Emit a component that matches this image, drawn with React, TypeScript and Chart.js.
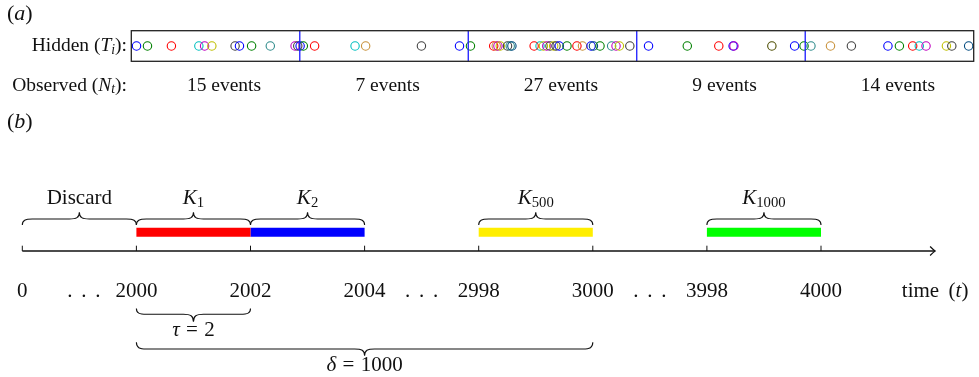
import React, { useEffect, useRef } from 'react';
import { Chart, registerables } from 'chart.js';
Chart.register(...registerables);

// ---------- Panel (a): hidden event times (interval units) ----------
const eventTimes = [
  0.031, 0.096, 0.238, 0.401, 0.435, 0.478, 0.616, 0.642, 0.714, 0.825,
  0.972, 0.988, 1.002, 1.021, 1.088, 1.328, 1.391, 1.722, 1.948, 2.013,
  2.151, 2.166, 2.176, 2.19, 2.233, 2.249, 2.259, 2.391, 2.426, 2.446,
  2.466, 2.485, 2.507, 2.521, 2.54, 2.586, 2.645, 2.678, 2.729, 2.743,
  2.782, 2.851, 2.877, 2.897, 2.959, 3.07, 3.3, 3.487, 3.572, 3.577, 3.802,
  3.937, 3.993, 4.034, 4.15, 4.274, 4.491, 4.559, 4.638, 4.677, 4.717,
  4.838, 4.87, 4.97,
];
const eventColorKeys = [
  'b', 'g', 'r', 'c', 'm', 'y', 'k', 'b', 'g', 't',
  'm', 'k', 'b', 'g', 'r', 'c', 'o', 'k', 'b', 'g',
  'r', 'o', 'm', 'y', 'k', 't', 'd', 'r', 'c', 'y',
  'm', 'k', 'y', 'k', 'b', 'g', 'r', 'o', 'b', 'd',
  'g', 't', 'm', 'y', 'k', 'b', 'g', 'r', 'b', 'm', 'l',
  'b', 'g', 't', 'o', 'k', 'b', 'g', 'r', 'c', 'm',
  'y', 'k', 'd',
];
const intervalBoundaries = [1, 2, 3, 4];
const intervalStarts = [0, 1, 2, 3, 4];
const observedCounts = [15, 7, 27, 9, 14];

// ---------- Panel (b): timeline ----------
const tickPositions = [0, 1, 2, 3, 4, 5, 6, 7];
const tickLabels = ['0', '2000', '2002', '2004', '2998', '3000', '3998', '4000'];
const ellipsisPositions = [0.54, 3.5, 5.5];
const windowStarts = [1, 2, 4, 6];
const windowEnds = [2, 3, 5, 7];
const windowSubscripts = ['1', '2', '500', '1000'];
const discardRange = [0, 1];
const tauRange = [1, 2];
const tauValue = '2';
const deltaRange = [1, 5];
const deltaValue = '1000';
const axisEnd = 8;
const timeLabelPos = 8;

const palette: Record<string, string> = {
  b: '#0000ff', g: '#008000', r: '#ff0000', c: '#00bfbf', m: '#bf00bf',
  y: '#bfbf00', k: '#404040', t: '#2e8b8b', o: '#c8913a', d: '#004a7f', l: '#4d4d00',
};
const windowColors = ['#ff0000', '#0000ff', '#ffee00', '#00ff00'];

const FONT = '"Liberation Serif", "Times New Roman", serif';
const INK = '#111';

type Part = { t?: string; it?: boolean; sub?: boolean; gap?: number };

function drawRich(ctx: CanvasRenderingContext2D, parts: Part[], x: number, y: number, size: number, align: 'left' | 'center' | 'right') {
  const fontFor = (p: Part) => `${p.it ? 'italic ' : ''}${p.sub ? size * 0.7 : size}px ${FONT}`;
  const widths = parts.map((p) => {
    if (p.gap !== undefined) return p.gap * size;
    ctx.font = fontFor(p);
    return ctx.measureText(p.t || '').width;
  });
  const total = widths.reduce((a, b) => a + b, 0);
  let cx = align === 'left' ? x : align === 'center' ? x - total / 2 : x - total;
  ctx.textAlign = 'left';
  ctx.textBaseline = 'alphabetic';
  ctx.fillStyle = INK;
  parts.forEach((p, i) => {
    if (p.gap === undefined) {
      ctx.font = fontFor(p);
      ctx.fillText(p.t || '', cx, y + (p.sub ? size * 0.15 : 0));
    }
    cx += widths[i];
  });
}

function brace(ctx: CanvasRenderingContext2D, x1: number, x2: number, yEnd: number, yLine: number, yTip: number) {
  const mid = (x1 + x2) / 2;
  const r = Math.min(10, (x2 - x1) / 5);
  ctx.beginPath();
  ctx.moveTo(x1, yEnd);
  ctx.bezierCurveTo(x1, yLine + (yEnd - yLine) * 0.2, x1 + r * 0.3, yLine, x1 + r, yLine);
  ctx.lineTo(mid - r, yLine);
  ctx.bezierCurveTo(mid - r * 0.3, yLine, mid, yLine + (yTip - yLine) * 0.2, mid, yTip);
  ctx.bezierCurveTo(mid, yLine + (yTip - yLine) * 0.2, mid + r * 0.3, yLine, mid + r, yLine);
  ctx.lineTo(x2 - r, yLine);
  ctx.bezierCurveTo(x2 - r * 0.3, yLine, x2, yLine + (yEnd - yLine) * 0.2, x2, yEnd);
  ctx.strokeStyle = INK;
  ctx.lineWidth = 1.1;
  ctx.stroke();
}

const panelAPlugin = {
  id: 'panelA',
  afterDraw(chart: any) {
    const { ctx, chartArea, scales } = chart;
    const xs = scales.x;
    ctx.save();
    ctx.strokeStyle = '#222';
    ctx.lineWidth = 1.3;
    ctx.strokeRect(chartArea.left, chartArea.top, chartArea.right - chartArea.left, chartArea.bottom - chartArea.top);
    drawRich(ctx, [{ t: '(' }, { t: 'a', it: true }, { t: ')' }], 7, 19.5, 22, 'left');
    drawRich(ctx, [{ t: 'Hidden ' }, { t: '(' }, { t: 'T', it: true }, { t: 'i', it: true, sub: true }, { t: '):' }], 127, 51, 19.5, 'right');
    drawRich(ctx, [{ t: 'Observed ' }, { t: '(' }, { t: 'N', it: true }, { t: 't', it: true, sub: true }, { t: '):' }], 127, 90.5, 19.5, 'right');
    intervalStarts.forEach((s, i) => {
      drawRich(ctx, [{ t: `${observedCounts[i]} events` }], xs.getPixelForValue(s + 0.33), 90.5, 19.5, 'left');
    });
    drawRich(ctx, [{ t: '(' }, { t: 'b', it: true }, { t: ')' }], 7, 128, 22, 'left');
    ctx.restore();
  },
};

const panelBPlugin = {
  id: 'panelB',
  afterDatasetsDraw(chart: any) {
    const { ctx, scales } = chart;
    const xs = scales.x;
    const axisY = scales.y.getPixelForValue(0);
    const barY = scales.y.getPixelForValue(1);
    const px = (v: number) => xs.getPixelForValue(v);
    ctx.save();
    // ticks
    ctx.strokeStyle = INK;
    ctx.lineWidth = 1;
    tickPositions.forEach((t) => {
      ctx.beginPath();
      ctx.moveTo(px(t), axisY - 5.3);
      ctx.lineTo(px(t), axisY);
      ctx.stroke();
    });
    // arrow head
    const tip = px(axisEnd);
    ctx.lineWidth = 1.2;
    ctx.beginPath();
    ctx.moveTo(tip - 5, axisY - 4.5);
    ctx.quadraticCurveTo(tip - 1.5, axisY - 1, tip, axisY);
    ctx.quadraticCurveTo(tip - 1.5, axisY + 1, tip - 5, axisY + 4.5);
    ctx.stroke();
    // tick labels
    tickPositions.forEach((t, i) => drawRich(ctx, [{ t: tickLabels[i] }], px(t), axisY + 45.7, 21, 'center'));
    ellipsisPositions.forEach((t) => drawRich(ctx, [{ t: '.' }, { gap: 0.42 }, { t: '.' }, { gap: 0.42 }, { t: '.' }], px(t), axisY + 45.7, 21, 'center'));
    drawRich(ctx, [{ t: 'time' }, { gap: 0.45 }, { t: '(' }, { t: 't', it: true }, { t: ')' }], px(timeLabelPos), axisY + 45.7, 21, 'center');
    // braces above
    const bEnd = barY - 7.2, bLine = barY - 13.2, bTip = barY - 20, bLab = barY - 28;
    brace(ctx, px(discardRange[0]), px(discardRange[1]), bEnd, bLine, bTip);
    drawRich(ctx, [{ t: 'Discard' }], px((discardRange[0] + discardRange[1]) / 2), bLab, 21, 'center');
    windowStarts.forEach((s, i) => {
      const e = windowEnds[i];
      brace(ctx, px(s), px(e), bEnd, bLine, bTip);
      drawRich(ctx, [{ t: 'K', it: true }, { t: windowSubscripts[i], sub: true }], px((s + e) / 2), bLab, 21, 'center');
    });
    // braces below
    brace(ctx, px(tauRange[0]), px(tauRange[1]), axisY + 57.5, axisY + 63.3, axisY + 70.7);
    drawRich(ctx, [{ t: 'τ', it: true }, { gap: 0.3 }, { t: '=' }, { gap: 0.3 }, { t: tauValue }], px((tauRange[0] + tauRange[1]) / 2), axisY + 84.7, 21, 'center');
    brace(ctx, px(deltaRange[0]), px(deltaRange[1]), axisY + 91.3, axisY + 98, axisY + 104.7);
    drawRich(ctx, [{ t: 'δ', it: true }, { gap: 0.3 }, { t: '=' }, { gap: 0.3 }, { t: deltaValue }], px((deltaRange[0] + deltaRange[1]) / 2), axisY + 119.5, 21, 'center');
    ctx.restore();
  },
};

export default function App() {
  const refA = useRef<HTMLCanvasElement>(null);
  const refB = useRef<HTMLCanvasElement>(null);

  useEffect(() => {
    const chartA = new Chart(refA.current as HTMLCanvasElement, {
      type: 'scatter',
      data: {
        datasets: [
          {
            data: eventTimes.map((t) => ({ x: t, y: 0 })),
            pointRadius: 4.2,
            pointBorderWidth: 1.1,
            pointBorderColor: eventColorKeys.map((k) => palette[k]),
            pointBackgroundColor: 'rgba(0,0,0,0)',
            showLine: false,
            clip: false,
            order: 1,
          } as any,
          ...intervalBoundaries.map((b) => ({
            data: [{ x: b, y: -1 }, { x: b, y: 1 }],
            showLine: true,
            borderColor: '#1a1aff',
            borderWidth: 1.3,
            pointRadius: 0,
            clip: false,
            order: 0,
          })),
        ],
      },
      options: {
        responsive: false,
        animation: false,
        devicePixelRatio: 1,
        events: [],
        layout: { padding: { left: 131.3, right: 1.2, top: 30.7, bottom: 78.7 } },
        scales: {
          x: { type: 'linear', min: 0, max: 5, display: false },
          y: { type: 'linear', min: -1, max: 1, display: false },
        },
        plugins: { legend: { display: false }, tooltip: { enabled: false } },
      },
      plugins: [panelAPlugin],
    });

    const chartB = new Chart(refB.current as HTMLCanvasElement, {
      type: 'scatter',
      data: {
        datasets: [
          {
            data: [{ x: 0, y: 0 }, { x: axisEnd, y: 0 }],
            showLine: true,
            borderColor: INK,
            borderWidth: 1.3,
            pointRadius: 0,
            clip: false,
          } as any,
          ...windowStarts.map((s, i) => ({
            data: [{ x: s, y: 1 }, { x: windowEnds[i], y: 1 }],
            showLine: true,
            borderColor: windowColors[i],
            borderWidth: 9,
            borderCapStyle: 'butt',
            pointRadius: 0,
            clip: false,
          })),
        ],
      },
      options: {
        responsive: false,
        animation: false,
        devicePixelRatio: 1,
        events: [],
        layout: { padding: { left: 22.3, right: 43.9, top: 92.2, bottom: 126 } },
        scales: {
          x: { type: 'linear', min: 0, max: 8, display: false },
          y: { type: 'linear', min: 0, max: 1, display: false },
        },
        plugins: { legend: { display: false }, tooltip: { enabled: false } },
      },
      plugins: [panelBPlugin],
    });

    return () => {
      chartA.destroy();
      chartB.destroy();
    };
  }, []);

  return (
    <div style={{ position: 'absolute', left: 0, top: 0, width: 979, height: 377, background: '#fff' }}>
      <canvas ref={refA} width={979} height={140} style={{ position: 'absolute', left: 0, top: 0 }} />
      <canvas ref={refB} width={979} height={237} style={{ position: 'absolute', left: 0, top: 140 }} />
    </div>
  );
}
